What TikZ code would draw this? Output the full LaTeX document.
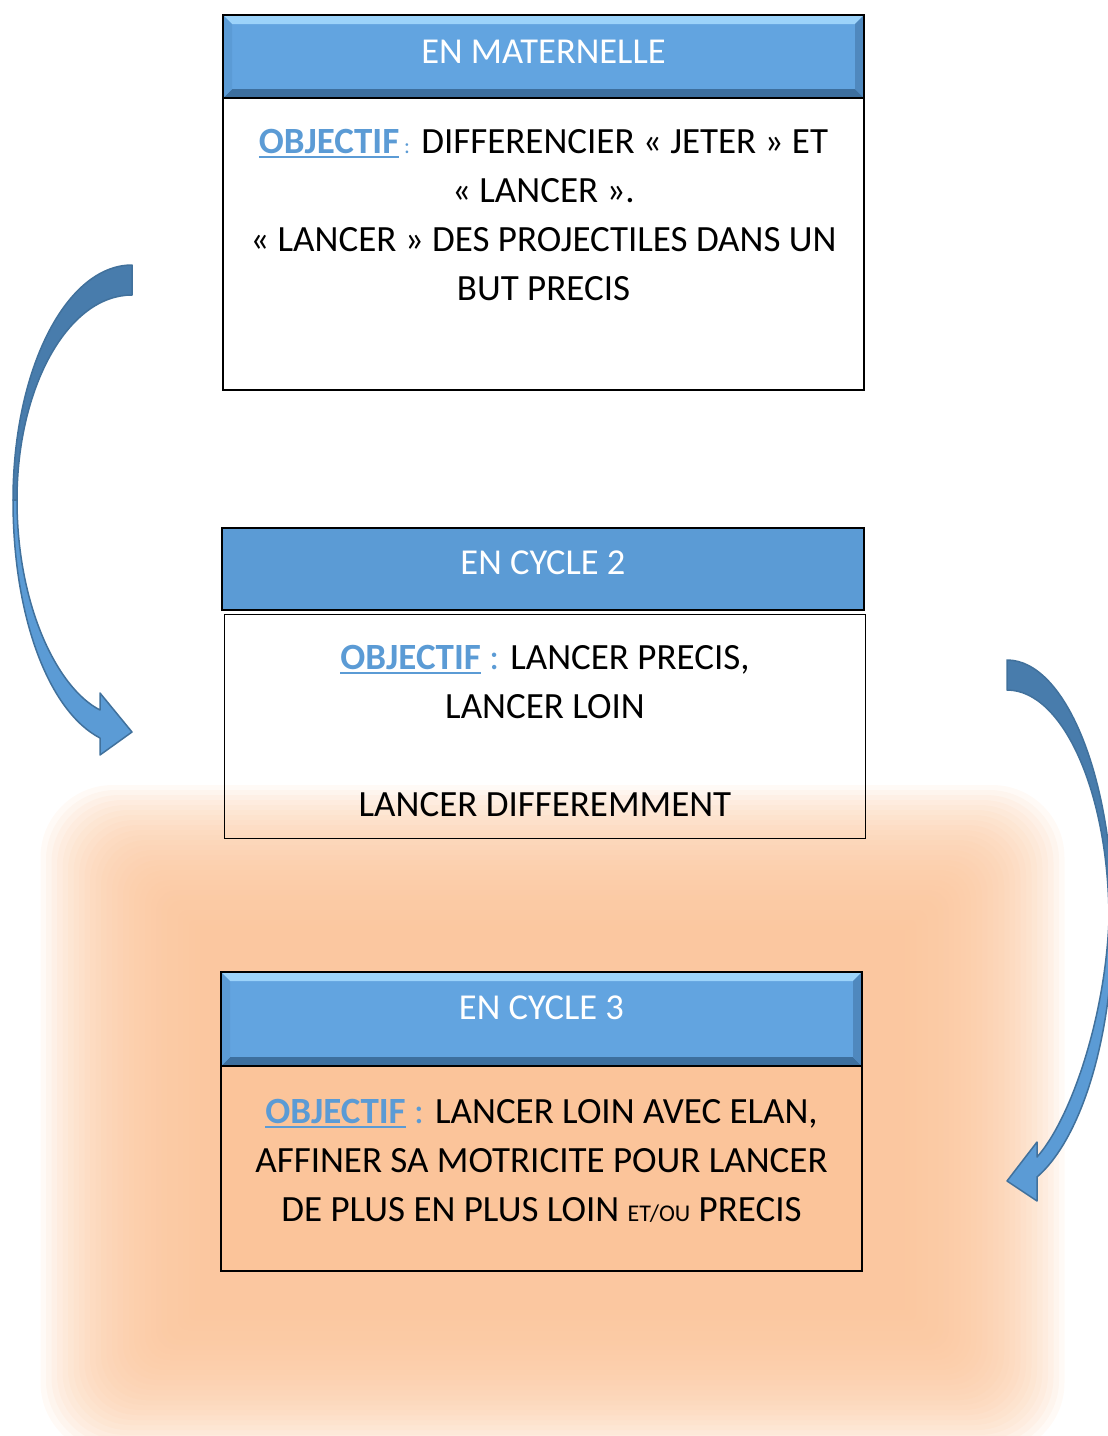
\documentclass[tikz,border=0pt]{standalone}
\usepackage{fontspec}
\setmainfont{Carlito}
\usetikzlibrary{positioning}
\definecolor{headblue}{HTML}{5B9BD5}
\definecolor{bevelblue}{HTML}{62A4E0}
\definecolor{bevellight}{HTML}{9CD3FA}
\definecolor{beveldark}{HTML}{3D6F9E}
\definecolor{bevelside}{HTML}{4F88BE}
\definecolor{arrowdark}{HTML}{487CAC}
\definecolor{arrowlight}{HTML}{5B9BD5}
\definecolor{arrowline}{HTML}{41719C}
\definecolor{glow}{HTML}{FBC49A}
\newcommand{\objectif}{{\color{headblue}\setbox0\hbox{\bfseries OBJECTIF}\rlap{\rule[-5pt]{\wd0}{2.5pt}}\box0}}
\newcommand{\smallet}{{\fontsize{24}{49}\selectfont ET/OU}}

\begin{document}
\begin{tikzpicture}[x=1pt, y=-1pt,
        header/.style={rectangle, draw=black, line width=2.5pt, fill=headblue, text=white, minimum width=641pt, inner sep=0pt, outer sep=0pt, font=\fontsize{36.5}{40}\selectfont},
        bevel/.style={fill=bevelblue, path picture={
            \fill[bevellight] (path picture bounding box.north west) -- (path picture bounding box.north east) -- ([shift={(-9pt,-9pt)}]path picture bounding box.north east) -- ([shift={(9pt,-9pt)}]path picture bounding box.north west) -- cycle;
            \fill[beveldark] (path picture bounding box.south west) -- (path picture bounding box.south east) -- ([shift={(-9pt,9pt)}]path picture bounding box.south east) -- ([shift={(9pt,9pt)}]path picture bounding box.south west) -- cycle;
            \fill[bevelside] (path picture bounding box.north east) -- (path picture bounding box.south east) -- ([shift={(-9pt,9pt)}]path picture bounding box.south east) -- ([shift={(-9pt,-9pt)}]path picture bounding box.north east) -- cycle;
            \fill[headblue] (path picture bounding box.north west) -- (path picture bounding box.south west) -- ([shift={(9pt,9pt)}]path picture bounding box.south west) -- ([shift={(9pt,-9pt)}]path picture bounding box.north west) -- cycle;
        }},
        bodybox/.style={rectangle, draw=black, line width=2pt, minimum width=641pt, inner sep=0pt, outer sep=0pt},
        bodytext/.style={align=center, inner sep=0pt, font=\fontsize{37}{49}\selectfont},
        arrowback/.style={fill=arrowdark, draw=arrowline, line width=1.5pt, line join=round},
        arrowfront/.style={fill=arrowlight, draw=arrowline, line width=1.5pt, line join=round}
    ]
    \clip (0,0) rectangle (1108,1436);

    % Glow
    \foreach \k in {0,...,29}
        \fill[glow, opacity=0.09, rounded corners=\k*2.5pt] (200-\k*5.5, 930-\k*5) rectangle (905+\k*5.5, 1310+\k*5);

    % Maternelle
    \node[header, bevel, minimum height=83pt, text depth=10pt] (mat) at (543.5,56.5) {EN MATERNELLE};
    \node[bodybox, fill=white, below=0pt of mat, minimum height=292pt] (matbody) {};
    \node[bodytext, below=31pt of matbody.north] (mattext) {\objectif{\color{headblue}\fontsize{22}{49}\selectfont\ :} DIFFERENCIER « JETER » ET\\« LANCER ».\\« LANCER » DES PROJECTILES DANS UN\\BUT PRECIS};

    % Cycle 2
    \node[header, minimum width=642pt, minimum height=82pt, text depth=12pt] (cyc2) at (543,569) {EN CYCLE 2};
    \node[bodybox, line width=1pt, below=4pt of cyc2, xshift=2pt, minimum height=224pt] (cyc2body) {};
    \node[bodytext, below=31pt of cyc2body.north] (cyc2text) {\objectif{\color{headblue}\ :} LANCER PRECIS,\\LANCER LOIN\\[49pt]LANCER DIFFEREMMENT};

    % Cycle 3
    \node[header, bevel, minimum height=94pt, text depth=22pt] (cyc3) at (541.5,1019) {EN CYCLE 3};
    \node[bodybox, fill=glow, below=0pt of cyc3, minimum height=205pt] (cyc3body) {};
    \node[bodytext, below=33pt of cyc3body.north] (cyc3text) {\objectif{\color{headblue}\ :} LANCER LOIN AVEC ELAN,\\AFFINER SA MOTRICITE POUR LANCER\\DE PLUS EN PLUS LOIN \smallet{} PRECIS};

    % Arrows
    \coordinate (ltail) at (132,265);
    \coordinate (ltip) at (132,732);
    \fill[arrowback] (ltail) -- (132,295) .. controls (68,295) and (17,387) .. (17,500) -- (13,500) .. controls (13,370) and (66,265) .. (ltail) -- cycle;
    \fill[arrowfront] (13,500) .. controls (13,620) and (50,712) .. (100,738) -- (100,755) -- (ltip) -- (100,693) -- (100,710) .. controls (57,688) and (17,605) .. (17,500) -- cycle;

    \coordinate (rtail) at (1007,660);
    \coordinate (rtip) at (1007,1181);
    \fill[arrowback] (rtail) .. controls (1065,660) and (1113,777) .. (1113,920) -- (1109,920) .. controls (1109,793) and (1063,690) .. (1007,690) -- cycle;
    \fill[arrowfront] (1113,920) .. controls (1113,1040) and (1080,1140) .. (1037,1177) -- (1037,1201) -- (rtip) -- (1037,1142) -- (1037,1157) .. controls (1070,1120) and (1105,1020) .. (1109,920) -- cycle;
\end{tikzpicture}
\end{document}
